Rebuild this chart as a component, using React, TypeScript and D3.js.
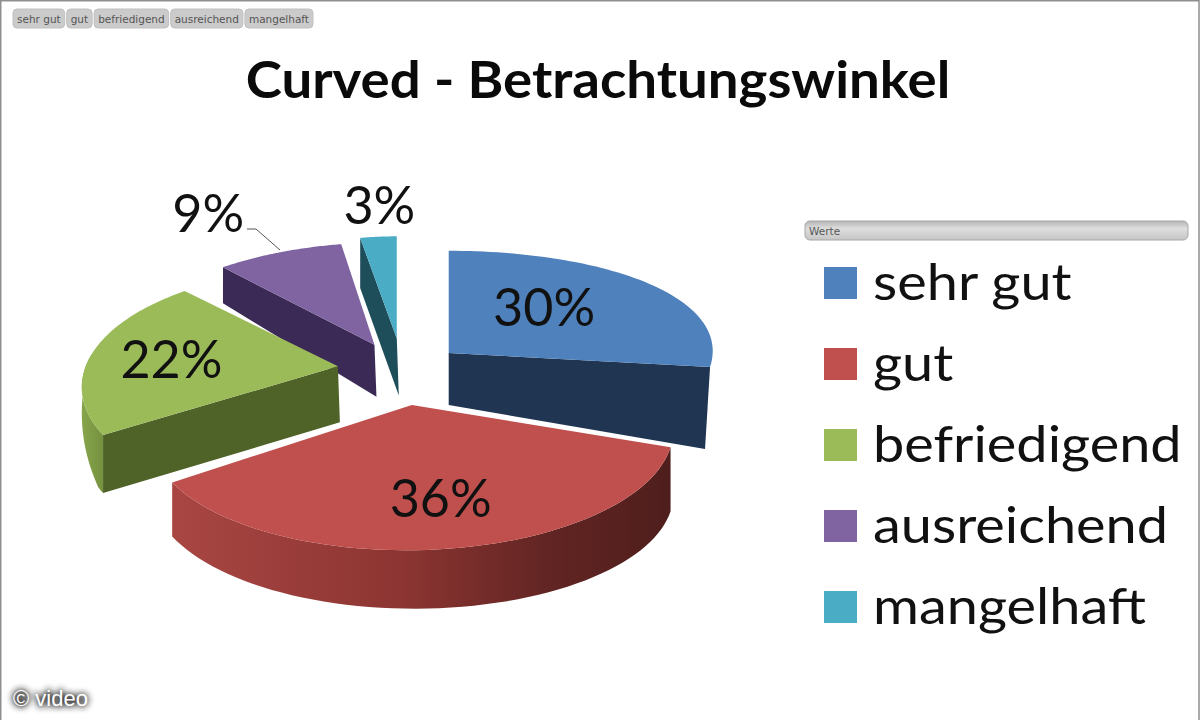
import React, { useEffect, useRef } from "react";
import * as d3 from "d3";

const title = "Curved - Betrachtungswinkel";
const categories = ["sehr gut", "gut", "befriedigend", "ausreichend", "mangelhaft"];
const values = [30, 36, 22, 9, 3];
const percentLabels = ["30%", "36%", "22%", "9%", "3%"];
const legendTitle = "Werte";
const watermark = "© video";

const topColors = ["#4f81bd", "#c0504d", "#9bbb59", "#8064a2", "#4bacc6"];
const wallColors = ["#1f3552", "#5a2321", "#4f6228", "#3b2a55", "#1f4e5b"];

// layout of the fake 3d pie
const center = { x: 400, y: 368 };
const radiusX = 260;
const radiusY = 120;
const perspective = 0.174;
const explode = 0.25;
const sizeScale = [1, 1, 0.97, 1, 1];
const widthScale = [1, 0.99, 1, 1, 0.88];
const tiltRange = [[0, -25], [3, -7], [0, 0], [0, 0], [0, 0]]; // shear of the top face over each slice
const skew = [0, 0, 0, 10, 0];
const nudge = [[1, 1], [2, 1], [1, 2], [0, 0], [2, -4]];
const apexDepth = [52, 60, 56, 52, 57];
const rimDepth = [[50, 82], [64, 54], [58, 58], [36, 44], [50, 50]];
const wallEdge = ["end", null, "start", "start", "start"]; // which cut face can be seen
const wallLean = [-5, 0, 0, 0, 0];
const showSide = [false, true, true, false, false];
const labelFrac = [[0.5, 0.62], [0.74, 0.65], [0.68, 0.45], [1.76, 1.42], [0.95, 1.3]];
const drawOrder = [4, 3, 2, 0, 1];

const font = "Lato, 'Open Sans', sans-serif";
const uiFont = "'DejaVu Sans', sans-serif";
const deg = Math.PI / 180;

const App: React.FC = () => {
  const svgRef = useRef<SVGSVGElement>(null);

  useEffect(() => {
    if (!svgRef.current) return;
    const svg = d3.select(svgRef.current);
    svg.selectAll("*").remove();

    const defs = svg.append("defs");

    const redRim = defs
      .append("linearGradient")
      .attr("id", "redRim")
      .attr("gradientUnits", "userSpaceOnUse")
      .attr("x1", 175)
      .attr("x2", 672)
      .attr("y1", 0)
      .attr("y2", 0);
    [[0, "#a84643"], [0.45, "#8d3532"], [0.75, "#622523"], [1, "#4e1e1c"]].forEach(([o, c]) =>
      redRim.append("stop").attr("offset", o).attr("stop-color", c)
    );
    const greenRim = defs
      .append("linearGradient")
      .attr("id", "greenRim")
      .attr("gradientUnits", "userSpaceOnUse")
      .attr("x1", 79)
      .attr("x2", 110)
      .attr("y1", 0)
      .attr("y2", 0);
    [[0, "#8aa84e"], [1, "#6f8a3a"]].forEach(([o, c]) =>
      greenRim.append("stop").attr("offset", o).attr("stop-color", c)
    );
    const pill = defs
      .append("linearGradient")
      .attr("id", "pill")
      .attr("x1", 0)
      .attr("x2", 0)
      .attr("y1", 0)
      .attr("y2", 1);
    [[0, "#b5b5b5"], [0.4, "#dedede"], [1, "#c6c6c6"]].forEach(([o, c]) =>
      pill.append("stop").attr("offset", o).attr("stop-color", c)
    );
    const glow = defs.append("filter").attr("id", "glow").attr("x", "-20%").attr("y", "-50%").attr("width", "140%").attr("height", "200%");
    glow.append("feGaussianBlur").attr("stdDeviation", 3);

    // frame, the screenshot has no line along the bottom
    svg.append("rect").attr("width", 1200).attr("height", 720).attr("fill", "#fff");
    svg
      .append("path")
      .attr("d", "M0.75,720V0.75H1199V720")
      .attr("fill", "none")
      .attr("stroke", "#8f8f8f")
      .attr("stroke-width", 1.5);

    const pie = d3
      .pie<number>()
      .sort(null)
      .value((d) => d);
    const arcs = pie(values);

    // rim depth fades out where the side turns away at the far left
    const taper = d3.scaleLinear().domain([240 * deg, 276 * deg]).range([1, 0]).clamp(true);

    // unit circle angle to screen offset, nearer part of the pie gets bigger
    const rim = (a: number, i: number) => {
      const arc = arcs[i];
      const t = d3.scaleLinear().domain([arc.startAngle, arc.endAngle]).range(tiltRange[i])(a);
      const w = 1 + perspective * Math.cos(a);
      const r = sizeScale[i];
      return {
        x: (r * widthScale[i] * (radiusX * Math.sin(a) + skew[i] * Math.cos(a))) / w,
        y: (r * (-radiusY * Math.cos(a) + t * Math.sin(a))) / w,
      };
    };

    // where the tip of an exploded slice ends up
    const apex = (i: number) => {
      const mid = (arcs[i].startAngle + arcs[i].endAngle) / 2;
      const w = 1 + perspective * Math.cos(mid);
      return {
        x: center.x + nudge[i][0] + (explode * radiusX * Math.sin(mid)) / w,
        y: center.y + nudge[i][1] - (explode * radiusY * Math.cos(mid)) / w,
      };
    };

    const line = d3.line<[number, number]>();
    const pies = svg.append("g");

    drawOrder.forEach((i) => {
      const arc = arcs[i];
      const { x: ax, y: ay } = apex(i);
      const depth = d3
        .scaleLinear()
        .domain([arc.startAngle, arc.endAngle])
        .range(rimDepth[i]);
      const pt = (a: number): [number, number] => {
        const p = rim(a, i);
        return [ax + p.x, ay + p.y];
      };
      const angles = d3.range(0, 61).map((k) => arc.startAngle + ((arc.endAngle - arc.startAngle) * k) / 60);

      // outer side, only the part that faces the viewer
      const front = angles.filter((a) => a >= 90 * deg && a <= 276 * deg);
      if (showSide[i] && front.length > 1) {
        const upper = front.map(pt);
        const lower = front
          .map((a): [number, number] => {
            const p = pt(a);
            return [p[0], p[1] + depth(a) * taper(a)];
          })
          .reverse();
        const rimFill = i === 1 ? "url(#redRim)" : "url(#greenRim)";
        pies
          .append("path")
          .attr("d", line([...upper, ...lower]) + "Z")
          .attr("fill", rimFill);
      }

      // cut face
      const edge = wallEdge[i];
      if (edge) {
        const a = edge === "end" ? arc.endAngle : arc.startAngle;
        const p = pt(a);
        pies
          .append("path")
          .attr(
            "d",
            line([
              [ax, ay],
              p,
              [p[0] + wallLean[i], p[1] + depth(a)],
              [ax + wallLean[i] * 0.4 + 2, ay + apexDepth[i]],
            ]) + "Z"
          )
          .attr("fill", wallColors[i]);
      }

      // top face
      pies
        .append("path")
        .attr("d", line([[ax, ay], ...angles.map(pt)]) + "Z")
        .attr("fill", topColors[i]);
    });

    // percent labels
    drawOrder.forEach((i) => {
      const arc = arcs[i];
      const mid = (arc.startAngle + arc.endAngle) / 2;
      const a = apex(i);
      const p = rim(mid, i);
      svg
        .append("text")
        .attr("x", a.x + p.x * labelFrac[i][0])
        .attr("y", a.y + p.y * labelFrac[i][1])
        .attr("dy", "0.35em")
        .attr("text-anchor", "middle")
        .attr("font-family", font)
        .attr("font-size", 52)
        .attr("fill", "#111")
        .text(percentLabels[i]);
    });

    // leader of the 9% label
    svg
      .append("path")
      .attr("d", line([[247, 229], [256, 229], [280, 250]]))
      .attr("fill", "none")
      .attr("stroke", "#555")
      .attr("stroke-width", 1);

    // title
    svg
      .append("text")
      .attr("transform", "translate(598, 98) scale(1.05, 1)")
      .attr("text-anchor", "middle")
      .attr("font-family", font)
      .attr("font-weight", 700)
      .attr("font-size", 52)
      .attr("fill", "#0a0a0a")
      .text(title);

    // legend
    svg
      .append("rect")
      .attr("x", 805)
      .attr("y", 221)
      .attr("width", 383)
      .attr("height", 19)
      .attr("rx", 5)
      .attr("fill", "url(#pill)")
      .attr("stroke", "#a6a6a6");
    svg
      .append("text")
      .attr("x", 809)
      .attr("y", 235)
      .attr("font-family", uiFont)
      .attr("font-size", 10.5)
      .attr("fill", "#555")
      .text(legendTitle);

    const legendY = d3
      .scalePoint<string>()
      .domain(categories)
      .range([283, 607]);
    const legend = svg
      .append("g")
      .selectAll("g")
      .data(categories)
      .enter()
      .append("g")
      .attr("transform", (d) => `translate(0, ${legendY(d)})`);
    legend
      .append("rect")
      .attr("x", 824)
      .attr("y", -16)
      .attr("width", 33)
      .attr("height", 32)
      .attr("fill", (d, i) => topColors[i]);
    legend
      .append("text")
      .attr("transform", "translate(873, 17) scale(1.118, 1)")
      .attr("font-family", font)
      .attr("font-size", 50)
      .attr("fill", "#111")
      .text((d) => d);

    // filter buttons on top, sized to their text
    let bx = 13;
    categories.forEach((c) => {
      const button = svg.append("g");
      const box = button
        .append("rect")
        .attr("x", bx)
        .attr("y", 9)
        .attr("height", 19)
        .attr("rx", 4)
        .attr("fill", "#cbcbcb")
        .attr("stroke", "#c0c0c0");
      const label = button
        .append("text")
        .attr("x", bx + 4)
        .attr("y", 23)
        .attr("font-family", uiFont)
        .attr("font-size", 10.5)
        .attr("fill", "#555")
        .text(c);
      const w = (label.node() as SVGTextElement).getComputedTextLength() + 8;
      box.attr("width", w);
      bx += w + 2;
    });

    // watermark
    svg
      .append("text")
      .attr("x", 13)
      .attr("y", 706)
      .attr("font-family", "Liberation Sans, sans-serif")
      .attr("font-size", 22)
      .attr("stroke", "#222")
      .attr("stroke-width", 2)
      .attr("filter", "url(#glow)")
      .text(watermark);
    svg
      .append("text")
      .attr("x", 13)
      .attr("y", 706)
      .attr("font-family", "Liberation Sans, sans-serif")
      .attr("font-size", 22)
      .attr("fill", "#fff")
      .text(watermark);
  }, []);

  return (
    <svg
      ref={svgRef}
      width={1200}
      height={720}
      style={{ position: "fixed", left: 0, top: 0, display: "block" }}
    />
  );
};

export default App;
